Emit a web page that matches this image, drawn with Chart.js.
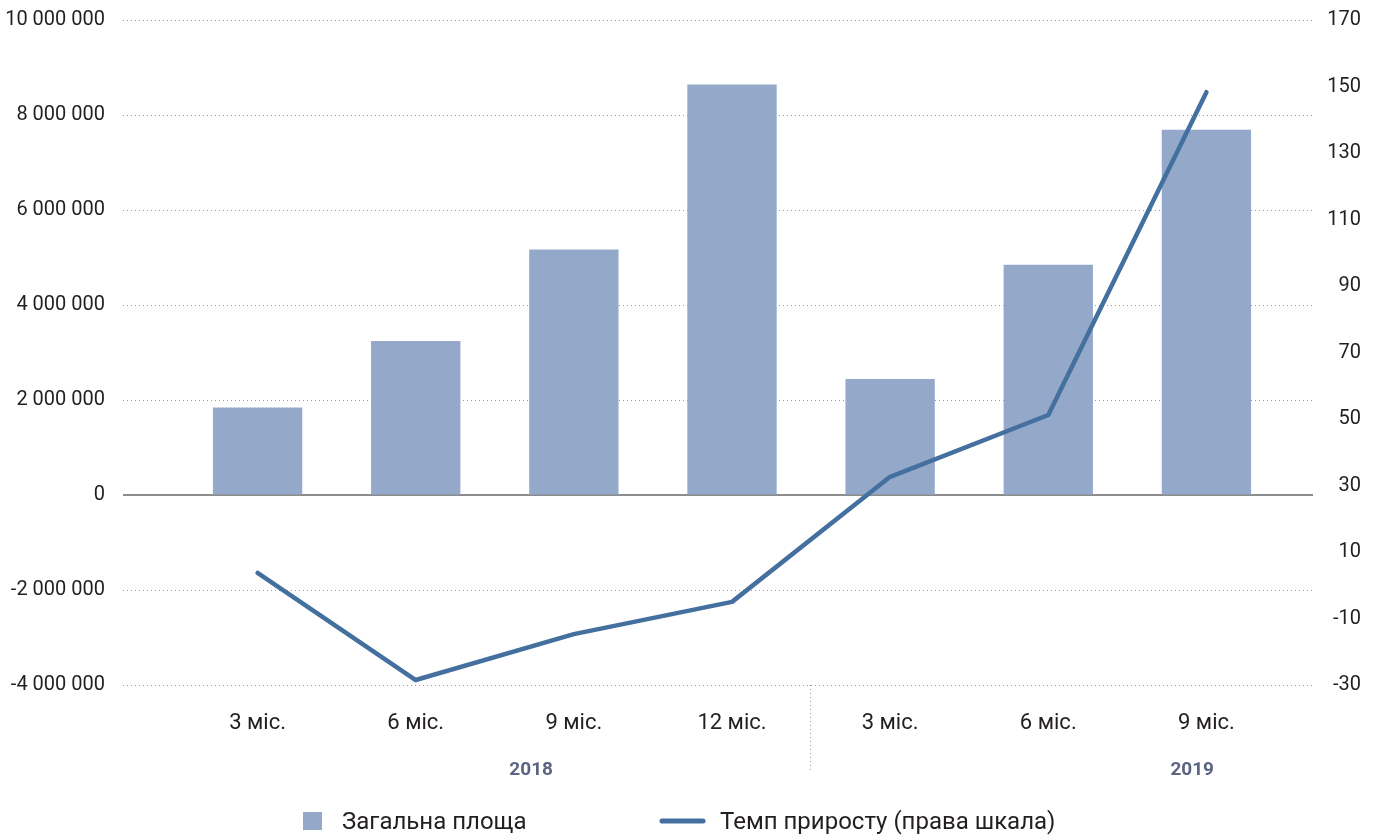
<!DOCTYPE html>
<html>
<head>
<meta charset="utf-8">
<script src="https://cdn.jsdelivr.net/npm/chart.js@4.4.1/dist/chart.umd.min.js"></script>
<style>
html,body{margin:0;padding:0;background:#fff;}
#wrap{width:1382px;height:837px;position:relative;}
</style>
</head>
<body>
<div id="wrap"><canvas id="c"></canvas></div>
<script>
// ---- data ----
const categories = ['3 міс.', '6 міс.', '9 міс.', '12 міс.', '3 міс.', '6 міс.', '9 міс.'];
const years = ['2018', '2019'];
const seriesNames = ['Загальна площа', 'Темп приросту (права шкала)'];
const totalArea = [1840000, 3240000, 5170000, 8640000, 2440000, 4850000, 7690000];
const growthRate = [3.7, -28.5, -14.7, -5.0, 32.6, 51.2, 148.3];
const leftTicks = [-4000000, -2000000, 0, 2000000, 4000000, 6000000, 8000000, 10000000];
const rightTicks = [-30, -10, 10, 30, 50, 70, 90, 110, 130, 150, 170];

// ---- styles ----
const FONT = 'Roboto';
const TEXT = '#231f20';
const BAR = '#94a9c9';
const LINE = '#44709f';
const GRID = '#9a9a9a';

const fmt = v => (v < 0 ? '-' : '') + String(Math.abs(v)).replace(/\B(?=(\d{3})+(?!\d))/g, ' ');

const decorPlugin = {
  id: 'decor',
  beforeDatasetsDraw(chart) {
    const {ctx, chartArea} = chart;
    const y0 = chart.scales.y.getPixelForValue(0);
    ctx.save();
    ctx.strokeStyle = '#8c8c8c';
    ctx.lineWidth = 2;
    ctx.beginPath();
    ctx.moveTo(chartArea.left, y0);
    ctx.lineTo(chartArea.right, y0);
    ctx.stroke();
    ctx.restore();
  },
  afterDraw(chart, args, opts) {
    const {ctx, chartArea} = chart;
    const xs = chart.scales.x;
    ctx.save();
    // group separator
    const sx = Math.round(xs.getPixelForValue(opts.separatorAt)) - 0.5;
    ctx.strokeStyle = GRID;
    ctx.lineWidth = 1;
    ctx.setLineDash([1, 3]);
    ctx.beginPath();
    ctx.moveTo(sx, chartArea.bottom);
    ctx.lineTo(sx, opts.separatorEnd);
    ctx.stroke();
    ctx.setLineDash([]);
    // year labels
    ctx.font = 'bold 19px ' + FONT;
    ctx.fillStyle = '#5b6583';
    ctx.textAlign = 'center';
    ctx.textBaseline = 'alphabetic';
    years.forEach((yr, i) => {
      ctx.fillText(yr, xs.getPixelForValue(opts.yearAt[i]), opts.yearBaseline);
    });
    // legend
    const ds = chart.data.datasets;
    const ly = opts.legendY;
    ctx.fillStyle = ds[0].backgroundColor;
    ctx.fillRect(opts.legendX[0], ly - 9, 19, 18);
    ctx.strokeStyle = ds[1].borderColor;
    ctx.lineWidth = 5;
    ctx.lineCap = 'round';
    ctx.beginPath();
    ctx.moveTo(opts.legendX[1] + 2, ly);
    ctx.lineTo(opts.legendX[1] + 43, ly);
    ctx.stroke();
    ctx.font = '24px ' + FONT;
    ctx.fillStyle = TEXT;
    ctx.textAlign = 'left';
    ctx.fillText(ds[0].label, opts.legendX[0] + 39, ly + 8);
    ctx.fillText(ds[1].label, opts.legendX[1] + 60, ly + 8);
    ctx.restore();
  }
};

new Chart(document.getElementById('c'), {
  type: 'bar',
  data: {
    datasets: [
      {
        type: 'bar',
        label: seriesNames[0],
        data: totalArea.map((v, i) => ({x: i, y: v})),
        backgroundColor: BAR,
        yAxisID: 'y',
        barPercentage: 0.565,
        categoryPercentage: 1,
        order: 1
      },
      {
        type: 'line',
        label: seriesNames[1],
        data: growthRate.map((v, i) => ({x: i, y: v})),
        borderColor: LINE,
        backgroundColor: LINE,
        borderWidth: 4.5,
        pointRadius: 0,
        tension: 0,
        borderCapStyle: 'round',
        borderJoinStyle: 'round',
        yAxisID: 'y1',
        order: 0
      }
    ]
  },
  options: {
    responsive: true,
    maintainAspectRatio: false,
    animation: false,
    layout: {padding: {top: 20, right: 21, bottom: 0, left: 0}},
    plugins: {
      legend: {display: false},
      tooltip: {enabled: false},
      decor: {
        separatorAt: 3.5,
        separatorEnd: 773,
        yearAt: [1.73, 5.91],
        yearBaseline: 775,
        legendX: [303, 660],
        legendY: 821
      }
    },
    scales: {
      x: {
        type: 'linear',
        offset: false,
        min: -0.851,
        max: 6.674,
        grid: {display: false, drawTicks: false, offset: false},
        border: {display: false},
        afterBuildTicks: s => { s.ticks = categories.map((_, i) => ({value: i})); },
        afterFit: s => { s.height = 152; },
        ticks: {
          autoSkip: false,
          maxRotation: 0,
          padding: 25,
          color: TEXT,
          font: {family: FONT, size: 22},
          callback: v => categories[v] !== undefined ? categories[v] : ''
        }
      },
      y: {
        position: 'left',
        min: leftTicks[0],
        max: leftTicks[leftTicks.length - 1],
        afterBuildTicks: s => { s.ticks = leftTicks.map(v => ({value: v})); },
        afterFit: s => { s.width = 123; s.paddingTop = 0; s.paddingBottom = 0; },
        grid: {color: GRID, lineWidth: 1, drawTicks: false},
        border: {display: false, dash: [1, 3]},
        ticks: {
          padding: 18,
          color: TEXT,
          font: {family: FONT, size: 20},
          callback: v => fmt(v)
        }
      },
      y1: {
        position: 'right',
        min: rightTicks[0],
        max: rightTicks[rightTicks.length - 1],
        afterBuildTicks: s => { s.ticks = rightTicks.map(v => ({value: v})); },
        afterFit: s => { s.width = 48; s.paddingTop = 0; s.paddingBottom = 0; },
        grid: {display: false, drawTicks: false},
        border: {display: false},
        ticks: {
          crossAlign: 'far',
          color: TEXT,
          font: {family: FONT, size: 20},
          callback: v => String(v)
        }
      }
    }
  },
  plugins: [decorPlugin]
});
</script>
</body>
</html>
